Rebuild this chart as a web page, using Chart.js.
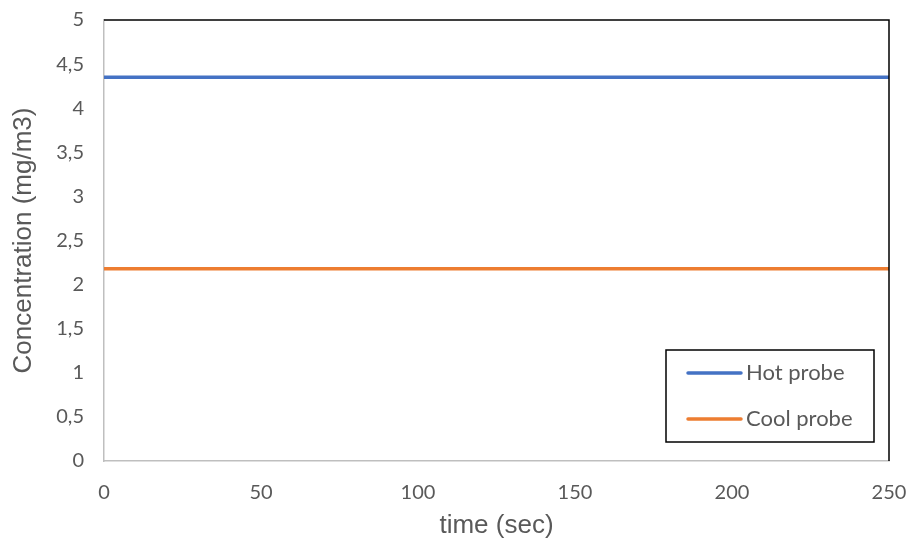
<!DOCTYPE html>
<html>
<head>
<meta charset="utf-8">
<script src="https://cdn.jsdelivr.net/npm/chart.js"></script>
<style>
  html, body { margin: 0; padding: 0; background: #fff; }
  #wrap { width: 909px; height: 545px; }
</style>
</head>
<body>
<div id="wrap"><canvas id="chart" width="909" height="545"></canvas></div>
<script>
// data
const timeSec = [0, 250];
const hotProbe = [4.35, 4.35];
const coolProbe = [2.18, 2.18];
const seriesLabels = ['Hot probe', 'Cool probe'];
const seriesColors = ['#4472C4', '#ED7D31'];

const tickFont = { family: 'Lato', size: 20 };
const tickColor = '#595959';

// black frame on top/right + boxed legend in the lower right
const framePlugin = {
  id: 'frame',
  afterDraw(chart) {
    const { ctx, chartArea: a } = chart;
    ctx.save();
    ctx.strokeStyle = '#000';
    ctx.lineWidth = 1.5;
    ctx.beginPath();
    ctx.moveTo(a.left, a.top);
    ctx.lineTo(a.right, a.top);
    ctx.lineTo(a.right, a.bottom);
    ctx.stroke();

    // legend box
    const bx = 666, by = 350, bw = 208, bh = 92;
    ctx.fillStyle = '#fff';
    ctx.fillRect(bx, by, bw, bh);
    ctx.lineWidth = 1.5;
    ctx.strokeRect(bx, by, bw, bh);
    ctx.font = '22px Lato';
    ctx.textBaseline = 'middle';
    chart.data.datasets.forEach((ds, i) => {
      const y = by + 23 + i * 46;
      ctx.strokeStyle = ds.borderColor;
      ctx.lineWidth = 3.5;
      ctx.lineCap = 'round';
      ctx.beginPath();
      ctx.moveTo(bx + 22, y);
      ctx.lineTo(bx + 75, y);
      ctx.stroke();
      ctx.fillStyle = tickColor;
      ctx.fillText(ds.label, bx + 80, y);
    });
    ctx.restore();
  }
};

new Chart(document.getElementById('chart'), {
  type: 'scatter',
  data: {
    datasets: [
      {
        label: seriesLabels[0],
        data: timeSec.map((t, i) => ({ x: t, y: hotProbe[i] })),
        borderColor: seriesColors[0],
        backgroundColor: seriesColors[0],
        showLine: true,
        borderWidth: 3.5,
        pointRadius: 0
      },
      {
        label: seriesLabels[1],
        data: timeSec.map((t, i) => ({ x: t, y: coolProbe[i] })),
        borderColor: seriesColors[1],
        backgroundColor: seriesColors[1],
        showLine: true,
        borderWidth: 3.5,
        pointRadius: 0
      }
    ]
  },
  options: {
    responsive: false,
    animation: false,
    layout: { padding: { top: 20, right: 20, left: 0, bottom: 0 } },
    plugins: {
      legend: { display: false },
      tooltip: { enabled: false }
    },
    scales: {
      x: {
        type: 'linear',
        min: 0,
        max: 250,
        ticks: { stepSize: 50, color: tickColor, font: tickFont, padding: 20 },
        grid: { display: false, drawTicks: false },
        border: { color: '#bfbfbf', width: 1.5 },
        title: {
          display: true,
          text: 'time (sec)',
          color: '#595959',
          font: { family: 'Liberation Sans', size: 26 },
          padding: { top: 6 }
        },
        afterFit(scale) {
          scale.height = 84;
          scale.paddingLeft = 0;
          scale.paddingRight = 0;
        }
      },
      y: {
        min: 0,
        max: 5,
        ticks: {
          stepSize: 0.5,
          color: tickColor,
          font: tickFont,
          padding: 20,
          callback: v => String(v).replace('.', ',')
        },
        grid: { display: false, drawTicks: false },
        border: { color: '#bfbfbf', width: 1.5 },
        title: {
          display: true,
          text: 'Concentration (mg/m3)',
          color: '#595959',
          font: { family: 'Liberation Sans', size: 26 },
          padding: { top: 8, bottom: 10 }
        },
        afterFit(scale) {
          scale.width = 104;
          scale.paddingTop = 0;
          scale.paddingBottom = 0;
        }
      }
    }
  },
  plugins: [framePlugin]
});
</script>
</body>
</html>
